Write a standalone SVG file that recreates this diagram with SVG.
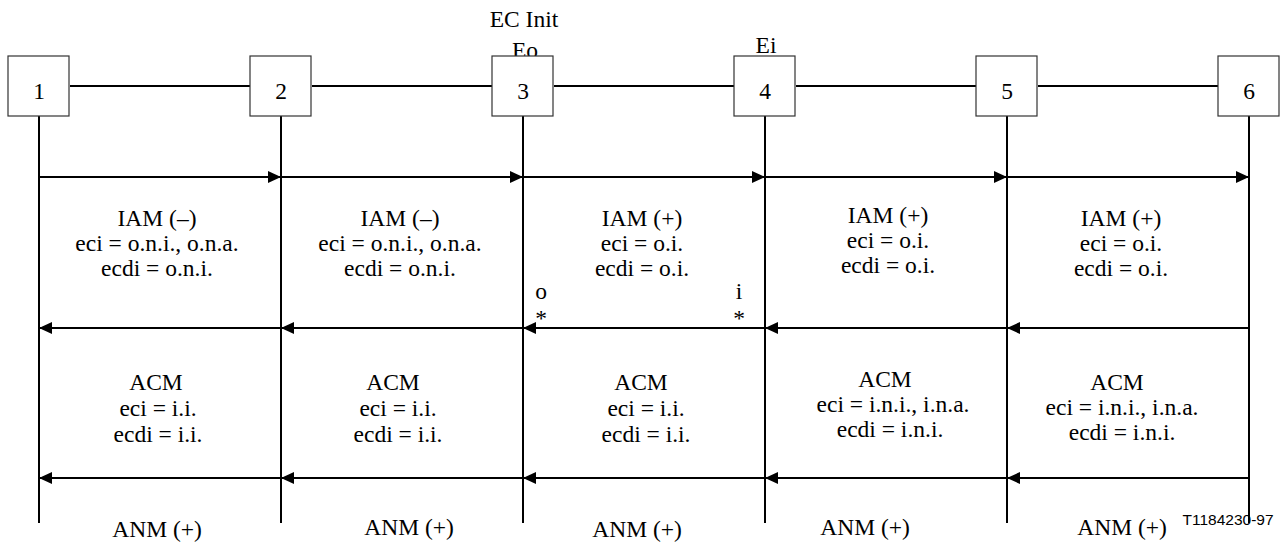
<svg xmlns="http://www.w3.org/2000/svg" width="1283" height="548" viewBox="0 0 1283 548">
<style>
.t{font-family:"Liberation Serif","Times New Roman",serif;font-size:23.5px;fill:#000;text-anchor:middle}
.s{font-family:"Liberation Sans",Arial,sans-serif;font-size:15.5px;fill:#000;text-anchor:middle}
.ln{stroke:#000;stroke-width:2;fill:none}
.box{fill:#fff;stroke:#333;stroke-width:1.2}
</style>
<defs>
<marker id="ah" viewBox="0 0 13 12" refX="13" refY="6" markerWidth="13" markerHeight="12" markerUnits="userSpaceOnUse" orient="auto">
<path d="M0,0 L13,6 L0,12 Z" fill="#000"/>
</marker>
</defs>
<rect width="1283" height="548" fill="#fff"/>
<g id="labels-top">
<text class="t" x="524" y="27">EC Init</text>
<text class="t" x="525" y="58">Eo</text>
<text class="t" x="766" y="53">Ei</text>
</g>
<g id="connectors">
<line class="ln" x1="70" y1="86" x2="250" y2="86"/>
<line class="ln" x1="312" y1="86" x2="492" y2="86"/>
<line class="ln" x1="554" y1="86" x2="734" y2="86"/>
<line class="ln" x1="796" y1="86" x2="976" y2="86"/>
<line class="ln" x1="1038" y1="86" x2="1218" y2="86"/>
<line class="ln" x1="39" y1="116" x2="39" y2="523"/>
<line class="ln" x1="281" y1="116" x2="281" y2="523"/>
<line class="ln" x1="523" y1="116" x2="523" y2="523"/>
<line class="ln" x1="765" y1="116" x2="765" y2="523"/>
<line class="ln" x1="1007" y1="116" x2="1007" y2="523"/>
<line class="ln" x1="1249" y1="116" x2="1249" y2="523"/>
<g id="iam-arrows">
<line class="ln" x1="39" y1="177" x2="281" y2="177" marker-end="url(#ah)"/>
<line class="ln" x1="281" y1="177" x2="523" y2="177" marker-end="url(#ah)"/>
<line class="ln" x1="523" y1="177" x2="765" y2="177" marker-end="url(#ah)"/>
<line class="ln" x1="765" y1="177" x2="1007" y2="177" marker-end="url(#ah)"/>
<line class="ln" x1="1007" y1="177" x2="1249" y2="177" marker-end="url(#ah)"/>
</g>
<g id="acm-arrows">
<line class="ln" x1="1249" y1="328" x2="1007" y2="328" marker-end="url(#ah)"/>
<line class="ln" x1="1007" y1="328" x2="765" y2="328" marker-end="url(#ah)"/>
<line class="ln" x1="765" y1="328" x2="523" y2="328" marker-end="url(#ah)"/>
<line class="ln" x1="523" y1="328" x2="281" y2="328" marker-end="url(#ah)"/>
<line class="ln" x1="281" y1="328" x2="39" y2="328" marker-end="url(#ah)"/>
</g>
<g id="anm-arrows">
<line class="ln" x1="1249" y1="478" x2="1007" y2="478" marker-end="url(#ah)"/>
<line class="ln" x1="1007" y1="478" x2="765" y2="478" marker-end="url(#ah)"/>
<line class="ln" x1="765" y1="478" x2="523" y2="478" marker-end="url(#ah)"/>
<line class="ln" x1="523" y1="478" x2="281" y2="478" marker-end="url(#ah)"/>
<line class="ln" x1="281" y1="478" x2="39" y2="478" marker-end="url(#ah)"/>
</g>
</g>
<g id="node1"><rect class="box" x="8" y="56" width="61" height="60"/><text class="t" x="39" y="99">1</text></g>
<g id="node2"><rect class="box" x="250" y="56" width="61" height="60"/><text class="t" x="281" y="99">2</text></g>
<g id="node3"><rect class="box" x="492" y="56" width="61" height="60"/><text class="t" x="523" y="99">3</text></g>
<g id="node4"><rect class="box" x="734" y="56" width="61" height="60"/><text class="t" x="765" y="99">4</text></g>
<g id="node5"><rect class="box" x="976" y="56" width="61" height="60"/><text class="t" x="1007" y="99">5</text></g>
<g id="node6"><rect class="box" x="1218" y="56" width="61" height="60"/><text class="t" x="1249" y="99">6</text></g>
<g id="iam-labels">
<text class="t" x="157" y="226">IAM (–)</text>
<text class="t" x="157" y="251">eci = o.n.i., o.n.a.</text>
<text class="t" x="157" y="276">ecdi = o.n.i.</text>
<text class="t" x="400" y="226">IAM (–)</text>
<text class="t" x="400" y="251">eci = o.n.i., o.n.a.</text>
<text class="t" x="400" y="276">ecdi = o.n.i.</text>
<text class="t" x="642" y="226">IAM (+)</text>
<text class="t" x="642" y="251">eci = o.i.</text>
<text class="t" x="642" y="276">ecdi = o.i.</text>
<text class="t" x="888" y="223">IAM (+)</text>
<text class="t" x="888" y="248">eci = o.i.</text>
<text class="t" x="888" y="273">ecdi = o.i.</text>
<text class="t" x="1121" y="226">IAM (+)</text>
<text class="t" x="1121" y="251">eci = o.i.</text>
<text class="t" x="1121" y="276">ecdi = o.i.</text>
</g>
<g id="markers">
<text class="t" x="541" y="299">o</text>
<text class="t" x="541" y="326">*</text>
<text class="t" x="739" y="299">i</text>
<text class="t" x="739" y="326">*</text>
</g>
<g id="acm-labels">
<text class="t" x="156" y="390">ACM</text>
<text class="t" x="158" y="416">eci = i.i.</text>
<text class="t" x="158" y="442">ecdi = i.i.</text>
<text class="t" x="393" y="390">ACM</text>
<text class="t" x="398" y="416">eci = i.i.</text>
<text class="t" x="398" y="442">ecdi = i.i.</text>
<text class="t" x="641" y="390">ACM</text>
<text class="t" x="646" y="416">eci = i.i.</text>
<text class="t" x="646" y="442">ecdi = i.i.</text>
<text class="t" x="885" y="387">ACM</text>
<text class="t" x="893" y="412">eci = i.n.i., i.n.a.</text>
<text class="t" x="890" y="437">ecdi = i.n.i.</text>
<text class="t" x="1117" y="390">ACM</text>
<text class="t" x="1122" y="415">eci = i.n.i., i.n.a.</text>
<text class="t" x="1122" y="440">ecdi = i.n.i.</text>
</g>
<g id="anm-labels">
<text class="t" x="157" y="537">ANM (+)</text>
<text class="t" x="409" y="535">ANM (+)</text>
<text class="t" x="637" y="537">ANM (+)</text>
<text class="t" x="865" y="535">ANM (+)</text>
<text class="t" x="1122" y="535">ANM (+)</text>
</g>
<text class="s" x="1228" y="525">T1184230-97</text>
</svg>
